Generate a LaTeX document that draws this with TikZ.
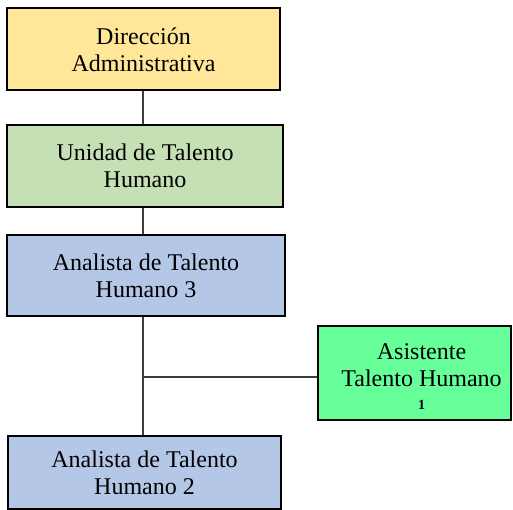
\documentclass[tikz,border=0pt]{standalone}
\usepackage{fontspec}
\setmainfont{Liberation Serif}
\definecolor{boxyellow}{RGB}{255,230,153}
\definecolor{boxgreen}{RGB}{197,224,180}
\definecolor{boxblue}{RGB}{180,199,231}
\definecolor{brightgreen}{RGB}{102,255,153}
\definecolor{linegray}{RGB}{60,60,60}
\begin{document}
\begin{tikzpicture}[x=1pt,y=-1pt,
  box/.style={draw=black, line width=2pt, align=center, inner sep=0pt,
    font=\fontsize{24pt}{27pt}\selectfont},
  boxtext/.style={align=center, inner sep=0pt, font=\fontsize{24pt}{27pt}\selectfont},
  conn/.style={draw=linegray, line width=1.3pt}]
\useasboundingbox (0,0) rectangle (513,510);
\node[box, fill=boxyellow, minimum width=273pt, minimum height=82pt] (dir) at (143.5,49.5) {Dirección\\Administrativa};
\node[box, fill=boxgreen, minimum width=276pt, minimum height=82pt] (uth) at (145,166) {Unidad de Talento\\Humano};
\node[box, fill=boxblue, minimum width=278pt, minimum height=81pt] (ath3) at (146,275.5) {Analista de Talento\\Humano 3};
\node[box, fill=boxblue, minimum width=273pt, minimum height=73pt] (ath2) at (144.5,472.5) {Analista de Talento\\Humano 2};
\node[box, fill=brightgreen, minimum width=193pt, minimum height=94pt] (asis) at (414.5,373) {};
\node[boxtext] (asistxt) at (421.5,376.5) {Asistente\\Talento Humano\\[-4pt]{\fontsize{14pt}{15pt}\selectfont\bfseries 1}};
\coordinate (j1) at (143,377);
\draw[conn] (dir.south -| j1) -- (uth.north -| j1);
\draw[conn] (uth.south -| j1) -- (ath3.north -| j1);
\draw[conn] (ath3.south -| j1) -- (ath2.north -| j1);
\draw[conn] (j1) -- (asis.west |- j1);
\end{tikzpicture}
\end{document}
